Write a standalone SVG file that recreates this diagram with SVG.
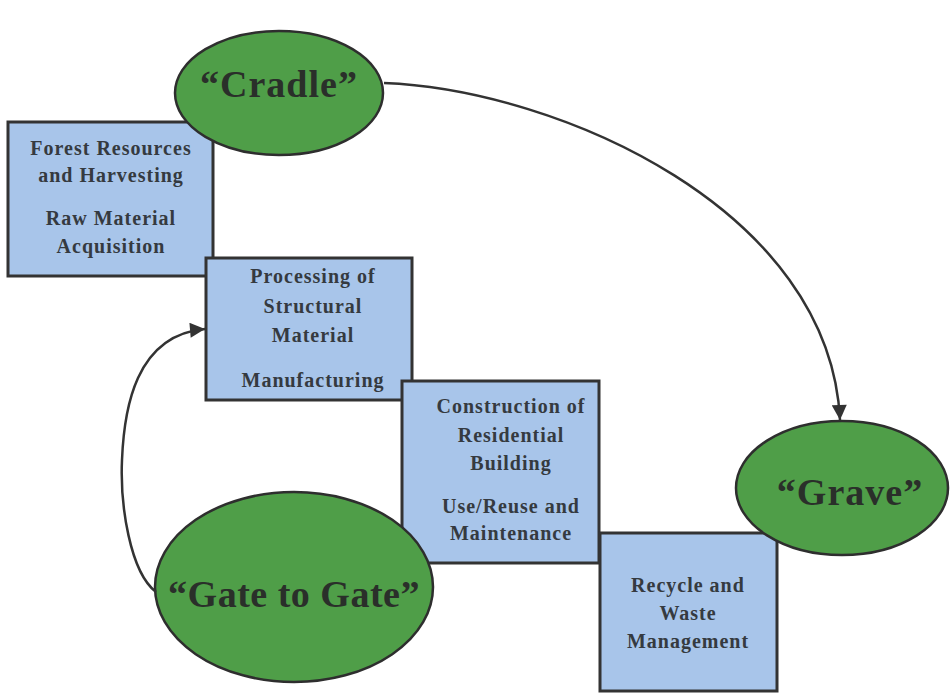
<svg xmlns="http://www.w3.org/2000/svg" width="950" height="694" viewBox="0 0 950 694">
<style>
.box{fill:#a8c5ea;stroke:#333;stroke-width:3}
.ell{fill:#4f9e48;stroke:#2e2e2e;stroke-width:2.5}
.bt{font-family:"Liberation Serif","DejaVu Serif","Times New Roman",serif;font-weight:bold;font-size:20px;fill:#353a40;text-anchor:middle;letter-spacing:1px}
.et{font-family:"Liberation Serif","DejaVu Serif","Times New Roman",serif;font-weight:bold;font-size:38px;fill:#2a2f2a;text-anchor:middle;letter-spacing:1px}
.con{fill:none;stroke:#333;stroke-width:2.5}
</style>
<defs>
<marker id="ah" viewBox="0 0 10 10" refX="10" refY="5" markerWidth="17" markerHeight="15" markerUnits="userSpaceOnUse" orient="auto">
<path d="M0,0 L10,5 L0,10 Z" fill="#333"/>
</marker>
</defs>
<rect width="950" height="694" fill="#fff"/>
<g id="box-forest">
<rect class="box" x="8" y="122" width="205" height="154"/>
<text class="bt" x="111" y="155">Forest Resources</text>
<text class="bt" x="111" y="182">and Harvesting</text>
<text class="bt" x="111" y="225">Raw Material</text>
<text class="bt" x="111" y="253">Acquisition</text>
</g>
<g id="box-processing">
<rect class="box" x="206" y="258" width="206" height="142"/>
<text class="bt" x="313" y="283">Processing of</text>
<text class="bt" x="313" y="313">Structural</text>
<text class="bt" x="313" y="342">Material</text>
<text class="bt" x="313" y="387">Manufacturing</text>
</g>
<g id="box-construction">
<rect class="box" x="402" y="381" width="197" height="182"/>
<text class="bt" x="511" y="413">Construction of</text>
<text class="bt" x="511" y="442">Residential</text>
<text class="bt" x="511" y="470">Building</text>
<text class="bt" x="511" y="513">Use/Reuse and</text>
<text class="bt" x="511" y="540">Maintenance</text>
</g>
<g id="box-recycle">
<rect class="box" x="600" y="533" width="177" height="158"/>
<text class="bt" x="688" y="592">Recycle and</text>
<text class="bt" x="688" y="620">Waste</text>
<text class="bt" x="688" y="648">Management</text>
</g>
<g id="cradle">
<ellipse class="ell" cx="279" cy="93" rx="104" ry="62"/>
<text class="et" x="279" y="97">“Cradle”</text>
</g>
<g id="grave">
<ellipse class="ell" cx="842" cy="488" rx="106" ry="67"/>
<text class="et" x="850" y="505">“Grave”</text>
</g>
<g id="gate">
<ellipse class="ell" cx="294" cy="587" rx="139" ry="95"/>
<text class="et" x="294" y="607" style="letter-spacing:0.5px">“Gate to Gate”</text>
</g>
<g id="connectors">
<path class="con" d="M384,83 C560,90 830,210 840,420" marker-end="url(#ah)"/>
<path class="con" d="M156,592 C130,572 120,505 122,460 C124,410 135,335 205,329" marker-end="url(#ah)"/>
</g>
</svg>
